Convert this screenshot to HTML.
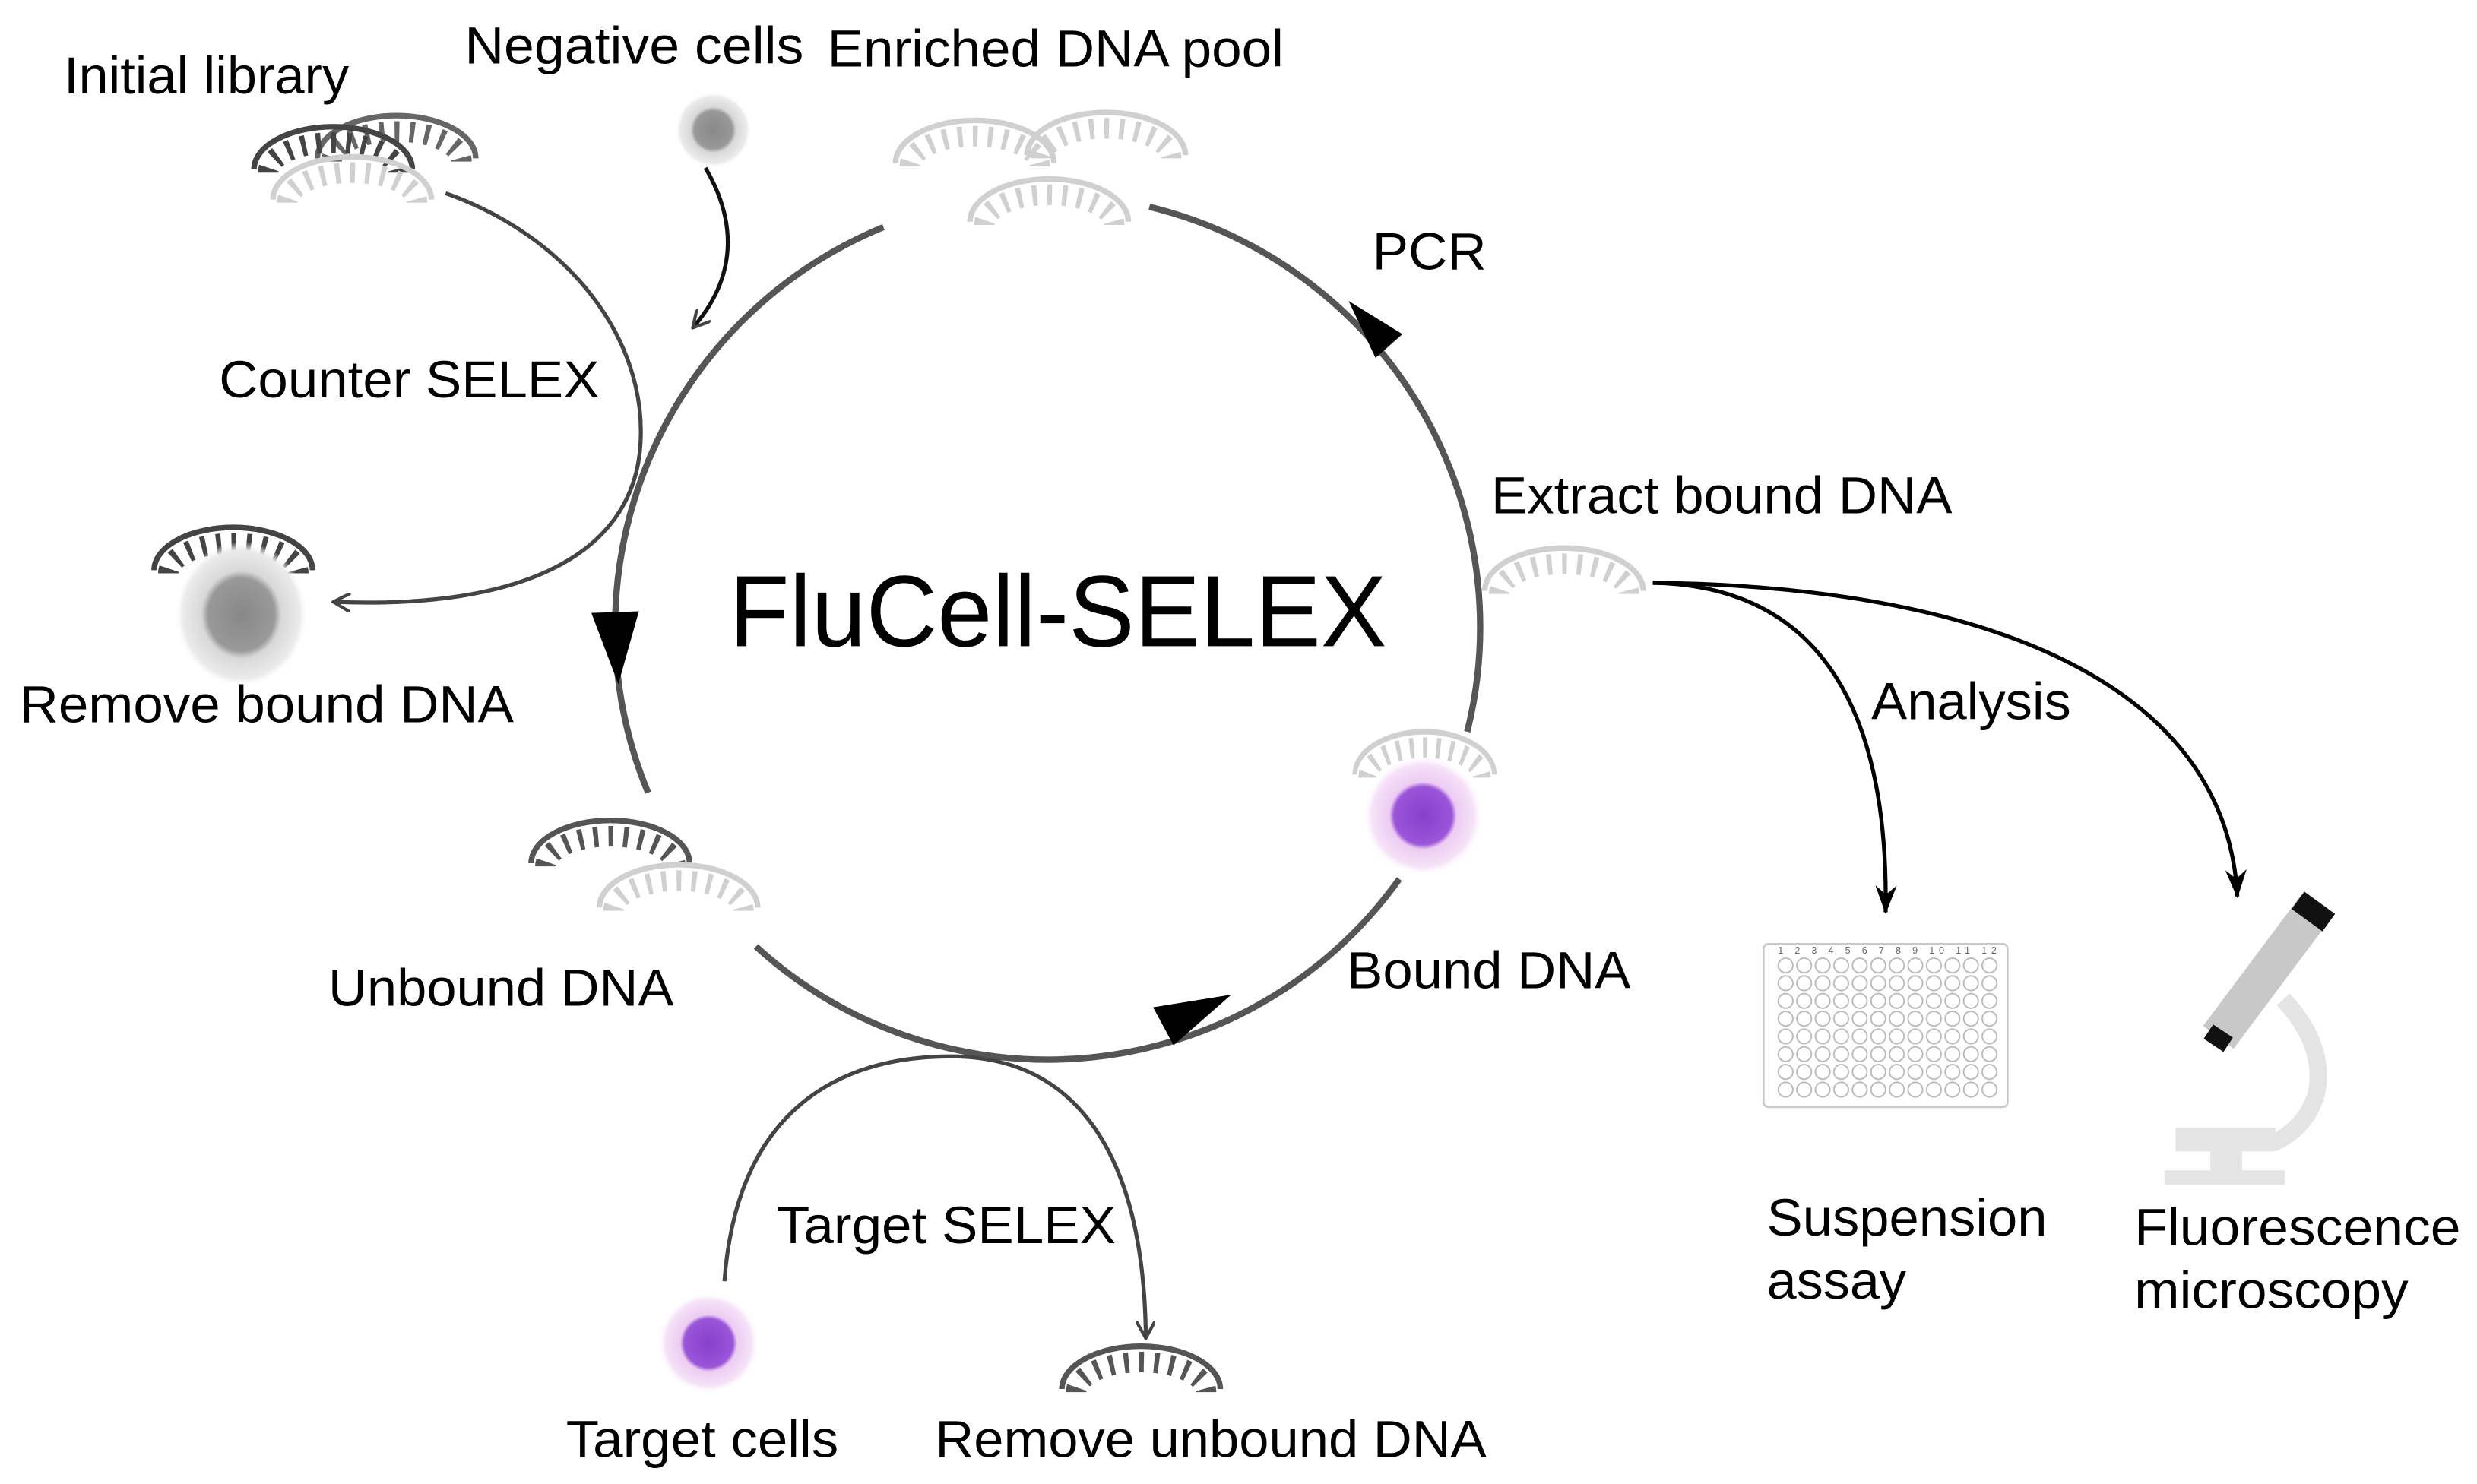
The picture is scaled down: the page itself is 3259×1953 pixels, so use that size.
<!DOCTYPE html>
<html><head><meta charset="utf-8"><style>
html,body{margin:0;padding:0;background:#fff;}
svg{display:block;}
text{font-family:"Liberation Sans",Arial,sans-serif;fill:#000;}
</style></head><body>
<svg width="3259" height="1953" viewBox="0 0 1563 937" xmlns="http://www.w3.org/2000/svg">
<defs>
<radialGradient id="gcell" cx="50%" cy="50%" r="50%">
<stop offset="0" stop-color="#888"/><stop offset="0.5" stop-color="#999"/><stop offset="0.6" stop-color="#d8d8d8"/><stop offset="0.88" stop-color="#ebebeb"/><stop offset="1" stop-color="#fff" stop-opacity="0"/>
</radialGradient>
<radialGradient id="pcell" cx="50%" cy="50%" r="50%">
<stop offset="0" stop-color="#8740cc"/><stop offset="0.48" stop-color="#9a55d8"/><stop offset="0.56" stop-color="#ecccf2"/><stop offset="0.85" stop-color="#f6e2f8"/><stop offset="1" stop-color="#fff" stop-opacity="0"/>
</radialGradient>
<g id="dna">
<path d="M0,30 A50,27 0 0 1 100,30" fill="none" stroke-width="3.5"/>
<path d="M9,32 A41,19 0 0 1 91,32" fill="none" stroke-width="13" stroke-dasharray="3 6.5"/>
</g>
<marker id="open" viewBox="0 0 12 12" refX="11" refY="6" markerWidth="12" markerHeight="12" markerUnits="userSpaceOnUse" orient="auto">
<path d="M0,0 L11,6 L0,12" fill="none" stroke="#444" stroke-width="2"/>
</marker>
<marker id="sharp" viewBox="0 0 16 12" refX="15" refY="6" markerWidth="18" markerHeight="14" markerUnits="userSpaceOnUse" orient="auto">
<path d="M0,0 L16,6 L0,12 L5,6 z" fill="#000"/>
</marker>
<pattern id="wells" x="1121" y="604" width="11.7" height="11.2" patternUnits="userSpaceOnUse">
<circle cx="5.85" cy="5.6" r="4.6" fill="none" stroke="#b8b8b8" stroke-width="0.9"/>
</pattern>
</defs>

<g fill="none" stroke="#555" stroke-width="4">
<path d="M557.4,143.4 A273,273 0 0 0 408.8,500.5"/>
<path d="M476.9,597.6 A273,273 0 0 0 883,555"/>
<path d="M925.9,462 A273,273 0 0 0 725.2,130.6"/>
</g>
<polygon points="373,387 403,386 390,432" fill="#000"/>
<polygon points="777,628 727.6,636 740.5,660" fill="#000"/>
<polygon points="851,190 885,211 868,226" fill="#000"/>

<g fill="none" stroke="#444" stroke-width="2.5">
<path d="M281,122 C360,150 408,215 404,280 C400,350 330,385 210,380" marker-end="url(#open)"/>
<path d="M445,106 C465,140 465,175 437,207" stroke="#111" marker-end="url(#open)"/>
<path d="M457,809 C465,700 530,667 600,667 C680,667 722,730 723,845" marker-end="url(#open)"/>
</g>
<g fill="none" stroke="#000" stroke-width="2.5">
<path d="M1043,368 C1150,370 1192,450 1190,576" marker-end="url(#sharp)"/>
<path d="M1043,368 C1250,370 1405,430 1412,566" marker-end="url(#sharp)"/>
</g>

<use href="#dna" transform="translate(200,70)" stroke="#666"/>
<use href="#dna" transform="translate(160,77)" stroke="#444"/>
<use href="#dna" transform="translate(172,96)" stroke="#d0d0d0"/>
<use href="#dna" transform="translate(565,73)" stroke="#d0d0d0"/>
<use href="#dna" transform="translate(648,68)" stroke="#d0d0d0"/>
<use href="#dna" transform="translate(612,110)" stroke="#d0d0d0"/>
<use href="#dna" transform="translate(937,343)" stroke="#d0d0d0"/>
<use href="#dna" transform="translate(97,330)" stroke="#444"/>
<use href="#dna" transform="translate(335,515)" stroke="#555"/>
<use href="#dna" transform="translate(378,543)" stroke="#d0d0d0"/>
<use href="#dna" transform="translate(855,459) scale(0.88,1)" stroke="#d0d0d0"/>
<use href="#dna" transform="translate(670,847)" stroke="#555"/>

<circle cx="450" cy="82" r="24" fill="url(#gcell)"/>
<ellipse cx="152" cy="388" rx="42" ry="46" fill="url(#gcell)"/>
<circle cx="898" cy="515" r="38" fill="url(#pcell)"/>
<circle cx="447" cy="848" r="32" fill="url(#pcell)"/>

<rect x="1113" y="596" width="154" height="103" rx="3" fill="#fff" stroke="#c8c8c8" stroke-width="1.2"/>
<rect x="1121" y="604" width="140.4" height="89.6" fill="url(#wells)"/>
<text x="1122" y="602" font-size="6" style="fill:#666" textLength="138" lengthAdjust="spacing">1 2 3 4 5 6 7 8 9 10 11 12</text>

<path d="M1441,631 Q1468,660 1462,690 Q1456,712 1434,722" fill="none" stroke="#e4e4e4" stroke-width="11"/>
<rect x="1373" y="712" width="63" height="15" fill="#e4e4e4"/>
<rect x="1395" y="727" width="20" height="13" fill="#e4e4e4"/>
<rect x="1366" y="739" width="76" height="9" fill="#e4e4e4"/>
<line x1="1462" y1="572" x2="1400" y2="655" stroke="#c8c8c8" stroke-width="24"/>
<line x1="1464" y1="570" x2="1456" y2="581" stroke="#111" stroke-width="24"/>
<line x1="1403" y1="651" x2="1397" y2="660" stroke="#111" stroke-width="15"/>

<g font-size="33" lengthAdjust="spacingAndGlyphs">
<text x="40" y="59" textLength="180" lengthAdjust="spacingAndGlyphs">Initial library</text>
<text x="293" y="40" textLength="214" lengthAdjust="spacingAndGlyphs">Negative cells</text>
<text x="522" y="42" textLength="288" lengthAdjust="spacingAndGlyphs">Enriched DNA pool</text>
<text x="866" y="170" textLength="72" lengthAdjust="spacingAndGlyphs">PCR</text>
<text x="138" y="251" textLength="240" lengthAdjust="spacingAndGlyphs">Counter SELEX</text>
<text x="941" y="324" textLength="291" lengthAdjust="spacingAndGlyphs">Extract bound DNA</text>
<text x="12" y="456" textLength="312" lengthAdjust="spacingAndGlyphs">Remove bound DNA</text>
<text x="1181" y="454" textLength="126" lengthAdjust="spacingAndGlyphs">Analysis</text>
<text x="207" y="635" textLength="218" lengthAdjust="spacingAndGlyphs">Unbound DNA</text>
<text x="850" y="624" textLength="179" lengthAdjust="spacingAndGlyphs">Bound DNA</text>
<text x="490" y="785" textLength="214" lengthAdjust="spacingAndGlyphs">Target SELEX</text>
<text x="357" y="920" textLength="172" lengthAdjust="spacingAndGlyphs">Target cells</text>
<text x="590" y="920" textLength="348" lengthAdjust="spacingAndGlyphs">Remove unbound DNA</text>
<text x="1115" y="780" textLength="177" lengthAdjust="spacingAndGlyphs">Suspension</text>
<text x="1115" y="820" textLength="88" lengthAdjust="spacingAndGlyphs">assay</text>
<text x="1347" y="786" textLength="206" lengthAdjust="spacingAndGlyphs">Fluorescence</text>
<text x="1347" y="826" textLength="173" lengthAdjust="spacingAndGlyphs">microscopy</text>
</g>
<text x="460" y="408" font-size="64" textLength="415" lengthAdjust="spacingAndGlyphs">FluCell-SELEX</text>
</svg>
</body></html>
